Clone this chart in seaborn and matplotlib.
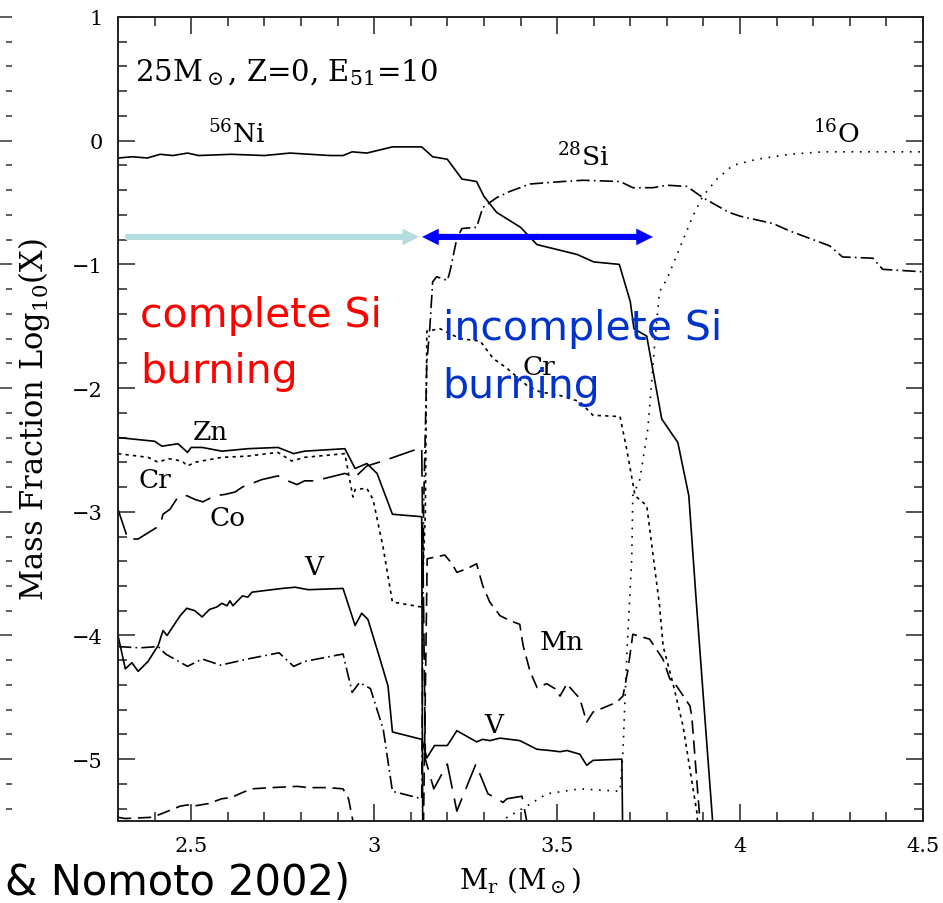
import matplotlib
matplotlib.use("Agg")
import matplotlib.pyplot as plt
import seaborn as sns
from matplotlib.patches import FancyArrowPatch
from matplotlib.ticker import MultipleLocator, FuncFormatter


# Traced abundance profiles: Mr (Msun) vs log10 mass fraction.
# Points below -5.5 just carry the curve off the bottom of the panel.
NI_X = [2.30, 2.34, 2.38, 2.415, 2.45, 2.49, 2.52, 2.61, 2.70, 2.77, 2.88, 2.915, 2.94, 2.98,
        3.05, 3.13, 3.16, 3.20, 3.24, 3.28, 3.30, 3.335, 3.40, 3.445, 3.50, 3.555, 3.60, 3.67,
        3.70, 3.71, 3.745, 3.786, 3.83, 3.86, 3.88, 3.90, 3.925, 3.935]
NI_Y = [-0.14, -0.13, -0.14, -0.11, -0.12, -0.10, -0.12, -0.11, -0.12, -0.10, -0.12, -0.12, -0.09, -0.10,
        -0.05, -0.05, -0.13, -0.15, -0.31, -0.33, -0.45, -0.58, -0.70, -0.84, -0.88, -0.92, -0.98, -1.00,
        -1.30, -1.52, -1.58, -2.25, -2.44, -2.87, -3.71, -4.51, -5.50, -5.80]

SI_X = [2.30, 2.36, 2.41, 2.43, 2.49, 2.53, 2.58, 2.655, 2.74, 2.78, 2.81, 2.915, 2.94, 2.96, 2.99,
        3.025, 3.05, 3.13, 3.135, 3.144, 3.152, 3.16, 3.171, 3.20, 3.207, 3.226, 3.24, 3.28, 3.297,
        3.335, 3.371, 3.426, 3.516, 3.57, 3.672, 3.707, 3.762, 3.80, 3.855, 3.898, 3.97, 4.00, 4.09,
        4.136, 4.245, 4.28, 4.363, 4.39, 4.50]
SI_Y = [-4.09, -4.10, -4.09, -4.15, -4.25, -4.19, -4.24, -4.19, -4.14, -4.25, -4.21, -4.15, -4.46, -4.38, -4.43,
        -4.76, -5.26, -5.32, -3.00, -1.79, -1.52, -1.14, -1.10, -1.13, -1.06, -0.79, -0.71, -0.70, -0.54,
        -0.46, -0.41, -0.35, -0.33, -0.32, -0.33, -0.38, -0.38, -0.36, -0.37, -0.46, -0.58, -0.61, -0.67,
        -0.73, -0.85, -0.94, -0.95, -1.04, -1.06]

O_X = [3.33, 3.352, 3.417, 3.472, 3.562, 3.672, 3.68, 3.69, 3.704, 3.707, 3.726, 3.748, 3.767, 3.78,
       3.80, 3.871, 3.898, 3.937, 3.98, 4.046, 4.136, 4.226, 4.50]
O_Y = [-5.65, -5.49, -5.38, -5.28, -5.24, -5.26, -4.94, -4.19, -3.38, -2.87, -2.74, -2.33, -1.63, -1.22,
       -1.12, -0.61, -0.45, -0.31, -0.20, -0.15, -0.11, -0.09, -0.09]

ZN_X = [2.30, 2.40, 2.42, 2.464, 2.49, 2.50, 2.53, 2.584, 2.655, 2.737, 2.78, 2.81, 2.92, 2.948, 2.98,
        3.008, 3.05, 3.13, 3.133]
ZN_Y = [-2.40, -2.43, -2.47, -2.45, -2.52, -2.48, -2.48, -2.51, -2.49, -2.48, -2.53, -2.51, -2.49, -2.65, -2.61,
        -2.69, -3.02, -3.04, -5.80]

CR_X = [2.30, 2.382, 2.41, 2.437, 2.475, 2.49, 2.51, 2.584, 2.655, 2.737, 2.775, 2.81, 2.92, 2.942, 2.948,
        2.98, 2.997, 3.024, 3.05, 3.13, 3.14, 3.144, 3.18, 3.234, 3.29, 3.325, 3.363, 3.418, 3.453, 3.508,
        3.562, 3.598, 3.672, 3.69, 3.713, 3.745, 3.78, 3.79, 3.816, 3.844, 3.882, 3.89]
CR_Y = [-2.53, -2.56, -2.60, -2.57, -2.59, -2.63, -2.60, -2.56, -2.55, -2.52, -2.59, -2.56, -2.53, -2.88, -2.82,
        -2.81, -2.90, -3.28, -3.73, -3.77, -3.00, -1.54, -1.52, -1.60, -1.62, -1.76, -1.84, -1.98, -2.03, -2.06,
        -2.11, -2.22, -2.23, -2.49, -2.87, -2.95, -3.76, -4.09, -4.38, -4.73, -5.43, -5.80]

CO_X = [2.30, 2.327, 2.355, 2.393, 2.415, 2.423, 2.442, 2.464, 2.488, 2.51, 2.532, 2.565, 2.592, 2.62, 2.64,
        2.693, 2.737, 2.764, 2.789, 2.81, 2.838, 2.92, 2.948, 2.98, 3.024, 3.13, 3.14, 3.163, 3.20, 3.226,
        3.278, 3.311, 3.336, 3.352, 3.363, 3.404, 3.43]
CO_Y = [-2.98, -3.22, -3.22, -3.15, -3.11, -3.02, -2.98, -2.88, -2.87, -2.90, -2.92, -2.87, -2.86, -2.84, -2.80,
        -2.74, -2.71, -2.75, -2.78, -2.75, -2.75, -2.69, -2.72, -2.63, -2.59, -2.48, -5.00, -5.24, -5.04, -5.42,
        -5.04, -5.28, -5.32, -5.35, -5.32, -5.30, -5.70]

MN_X = [2.30, 2.32, 2.393, 2.42, 2.47, 2.49, 2.505, 2.546, 2.584, 2.61, 2.64, 2.666, 2.72, 2.79, 2.82,
        2.874, 2.915, 2.93, 2.942, 2.95, 3.13, 3.135, 3.145, 3.193, 3.213, 3.226, 3.254, 3.28, 3.297,
        3.316, 3.344, 3.371, 3.398, 3.407, 3.426, 3.445, 3.472, 3.494, 3.508, 3.527, 3.535, 3.562, 3.581,
        3.598, 3.663, 3.68, 3.693, 3.707, 3.718, 3.753, 3.789, 3.808, 3.827, 3.863, 3.868, 3.89, 3.895]
MN_Y = [-5.47, -5.48, -5.47, -5.44, -5.38, -5.37, -5.38, -5.36, -5.32, -5.31, -5.27, -5.24, -5.23, -5.22, -5.23,
        -5.23, -5.24, -5.32, -5.50, -5.80, -5.80, -5.50, -3.38, -3.35, -3.42, -3.49, -3.46, -3.42, -3.60,
        -3.73, -3.84, -3.88, -3.91, -4.08, -4.29, -4.42, -4.39, -4.43, -4.49, -4.39, -4.42, -4.51, -4.70,
        -4.62, -4.54, -4.49, -4.29, -3.99, -4.00, -4.03, -4.19, -4.35, -4.41, -4.57, -4.65, -5.48, -5.80]

V_X = [2.30, 2.32, 2.338, 2.355, 2.382, 2.41, 2.423, 2.434, 2.47, 2.488, 2.51, 2.53, 2.55, 2.57, 2.584,
       2.598, 2.606, 2.614, 2.64, 2.655, 2.666, 2.748, 2.784, 2.82, 2.915, 2.948, 2.966, 2.983, 3.016,
       3.038, 3.05, 3.13, 3.144, 3.165, 3.20, 3.226, 3.28, 3.297, 3.316, 3.344, 3.398, 3.445, 3.48, 3.508,
       3.527, 3.562, 3.581, 3.598, 3.677, 3.68]
V_Y = [-4.00, -4.27, -4.22, -4.29, -4.21, -4.08, -3.96, -4.00, -3.84, -3.78, -3.80, -3.85, -3.79, -3.77, -3.74,
       -3.76, -3.72, -3.76, -3.68, -3.69, -3.65, -3.62, -3.61, -3.63, -3.62, -3.92, -3.82, -3.87, -4.19,
       -4.41, -4.78, -4.84, -4.99, -4.89, -4.89, -4.77, -4.86, -4.84, -4.85, -4.83, -4.85, -4.92, -4.93, -4.94,
       -4.93, -4.96, -5.05, -5.01, -5.00, -5.80]

SOLID = "-"
DASHDOT = (0, (8, 2.5, 1, 2.5))
DOTTED = (0, (1, 4))
FINE_DASH = (0, (2, 2.5))
DASHED = (0, (8, 4))
LONG_DASH = (0, (16, 6))

CURVES = [
    (NI_X, NI_Y, SOLID),
    (SI_X, SI_Y, DASHDOT),
    (O_X, O_Y, DOTTED),
    (ZN_X, ZN_Y, SOLID),
    (CR_X, CR_Y, FINE_DASH),
    (CO_X, CO_Y, LONG_DASH),
    (MN_X, MN_Y, DASHED),
    (V_X, V_Y, SOLID),
]

# element labels: (text, x, y baseline)
LABELS = [
    (r"$^{56}$Ni", 2.545, -0.01),
    (r"$^{28}$Si", 3.50, -0.20),
    (r"$^{16}$O", 4.20, -0.01),
    ("Zn", 2.505, -2.41),
    ("Cr", 2.355, -2.80),
    ("Co", 2.55, -3.11),
    ("V", 2.81, -3.50),
    ("Cr", 3.406, -1.89),
    ("Mn", 3.453, -4.11),
    ("V", 3.30, -4.78),
]


def add_arrow(ax, x0, x1, y, color):
    arrow = FancyArrowPatch((x0, y), (x1, y),
                            arrowstyle="simple,head_length=12,head_width=12,tail_width=4.4",
                            mutation_scale=1, color=color, lw=0, shrinkA=0, shrinkB=0, zorder=5)
    ax.add_patch(arrow)


def main():
    sns.set_style("ticks")
    plt.rcParams["font.family"] = ["DejaVu Serif"]
    plt.rcParams["mathtext.fontset"] = "dejavuserif"
    for key in ("text.color", "axes.labelcolor", "xtick.color", "ytick.color", "axes.edgecolor"):
        plt.rcParams[key] = "black"

    fig = plt.figure(figsize=(9.43, 9.04), dpi=100)
    ax = fig.add_axes([118 / 943, 1 - 822 / 904, 805 / 943, 804 / 904])

    for xs, ys, style in CURVES:
        sns.lineplot(x=xs, y=ys, ax=ax, estimator=None, sort=False, errorbar=None,
                     color="black", linewidth=1.2, linestyle=style)

    ax.set_xlim(2.3, 4.5)
    ax.set_ylim(-5.5, 1)

    fmt = FuncFormatter(lambda v, p: f"{v:g}".replace("-", "\u2212"))
    ax.xaxis.set_major_locator(MultipleLocator(0.5))
    ax.xaxis.set_minor_locator(MultipleLocator(0.1))
    ax.yaxis.set_major_locator(MultipleLocator(1))
    ax.yaxis.set_minor_locator(MultipleLocator(0.2))
    ax.xaxis.set_major_formatter(fmt)
    ax.yaxis.set_major_formatter(fmt)
    ax.tick_params(which="both", direction="in", top=True, right=True, width=1.1, color="#222222")
    ax.tick_params(which="major", length=12, labelsize=15)
    ax.tick_params(which="minor", length=6.5)
    ax.tick_params(axis="y", which="major", pad=11)
    ax.tick_params(axis="x", which="major", pad=11)
    for sp in ax.spines.values():
        sp.set_linewidth(1.4)
        sp.set_color("#222222")

    ax.set_xlabel(r"M$_{\rm r}$ (M$_\odot$)", fontsize=20)
    ax.xaxis.set_label_coords(0.5, -0.054)
    ax.set_ylabel(r"Mass Fraction Log$_{10}$(X)", fontsize=22)
    ax.yaxis.set_label_coords(-0.082, 0.5)

    ax.text(2.346, 0.49, r"25M$_\odot$, Z=0, E$_{51}$=10", fontsize=21, va="baseline")
    for txt, x, y in LABELS:
        ax.text(x, y, txt, fontsize=19, va="baseline")

    # burning regions overlaid on the figure
    add_arrow(ax, 2.32, 3.123, -0.778, "#b3dde0")
    add_arrow(ax, 3.45, 3.131, -0.778, "#0000ff")
    add_arrow(ax, 3.44, 3.762, -0.778, "#0000ff")

    sans = dict(family="DejaVu Sans", fontsize=29.5, va="baseline", zorder=6)
    ax.text(2.36, -1.50, "complete Si", color="#ff0000", **sans)
    ax.text(2.36, -1.953, "burning", color="#ff0000", **sans)
    ax.text(3.187, -1.60, "incomplete Si", color="#0033cc", **sans)
    ax.text(3.187, -2.07, "burning", color="#0033cc", **sans)

    fig.text(5 / 943, 1 - 895 / 904, "& Nomoto 2002)", family="DejaVu Sans", fontsize=30,
             va="baseline", color="black")

    # cut-off edge of the neighbouring panel on the left
    side = fig.add_axes([12 / 943 - 0.05, 1 - 822 / 904, 0.05, 804 / 904])
    side.set_ylim(-5.5, 1)
    side.set_xticks([])
    for sp in side.spines.values():
        sp.set_visible(False)
    side.yaxis.tick_right()
    side.yaxis.set_major_locator(MultipleLocator(1))
    side.yaxis.set_minor_locator(MultipleLocator(0.2))
    side.tick_params(axis="y", which="both", direction="in", labelright=False, color="#333333", width=1.1)
    side.tick_params(axis="y", which="major", length=9)
    side.tick_params(axis="y", which="minor", length=4)
    side.patch.set_visible(False)

    fig.savefig("out.png", dpi=100)
    plt.close(fig)


if __name__ == "__main__":
    main()
